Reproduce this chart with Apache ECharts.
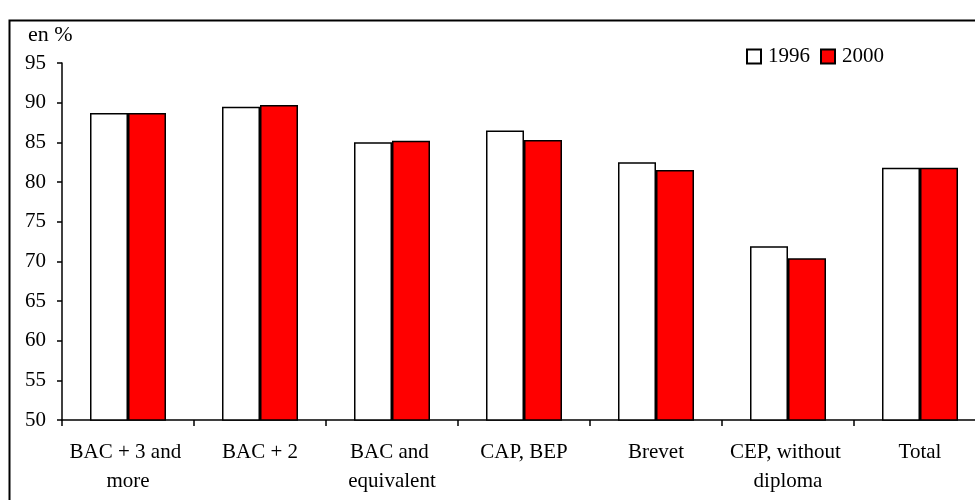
<!DOCTYPE html>
<html>
<head>
<meta charset="utf-8">
<title>en %</title>
<script src="https://cdn.jsdelivr.net/npm/echarts@6/dist/echarts.min.js"></script>
<style>
  html, body { margin: 0; padding: 0; background: #fff; }
  #chart { width: 975px; height: 500px; }
</style>
</head>
<body>
<div id="chart"></div>
<script>
// Education levels and share (%) for the two survey years
const categories = ['BAC + 3 and more', 'BAC + 2', 'BAC and equivalent', 'CAP, BEP', 'Brevet', 'CEP, without diploma', 'Total'];
const values1996 = [88.7, 89.5, 85.0, 86.5, 82.5, 71.9, 81.8];
const values2000 = [88.7, 89.7, 85.2, 85.3, 81.5, 70.4, 81.8];
const yTicks = { min: 50, max: 95, interval: 5 };

const FONT = '"Liberation Serif", "DejaVu Serif", serif';

const chart = echarts.init(document.getElementById('chart'), null, { renderer: 'canvas' });

chart.setOption({
  animation: false,
  backgroundColor: '#ffffff',
  textStyle: { fontFamily: FONT, color: '#000' },
  graphic: [
    {
      type: 'rect',
      shape: { x: 9.5, y: 20.5, width: 1100, height: 600 },
      style: { fill: 'none', stroke: '#000', lineWidth: 2 },
      silent: true,
      z: -10
    },
    {
      type: 'text',
      left: 28,
      top: 24,
      style: { text: 'en %', font: '22px ' + FONT, fill: '#000' }
    }
  ],
  legend: {
    left: 741,
    top: 41,
    itemWidth: 14,
    itemHeight: 14,
    itemGap: 10,
    icon: 'rect',
    textStyle: { fontFamily: FONT, fontSize: 21, color: '#000', padding: [0, 0, 0, 2] },
    data: ['1996', '2000']
  },
  grid: { left: 62, right: -11, top: 63, bottom: 80, containLabel: false, outerBoundsMode: 'none' },
  xAxis: {
    type: 'category',
    data: categories,
    boundaryGap: true,
    axisLine: { lineStyle: { color: '#000', width: 1.5 } },
    axisTick: { show: true, length: 6, lineStyle: { color: '#000', width: 1.5 } },
    axisLabel: {
      color: '#000',
      fontFamily: FONT,
      fontSize: 21,
      margin: 18,
      lineHeight: 29,
      width: 128,
      overflow: 'break',
      interval: 0
    }
  },
  yAxis: {
    type: 'value',
    min: yTicks.min,
    max: yTicks.max,
    interval: yTicks.interval,
    splitLine: { show: false },
    axisLine: { show: true, lineStyle: { color: '#000', width: 1.5 } },
    axisTick: { show: true, length: 5, lineStyle: { color: '#000', width: 1.5 } },
    axisLabel: { color: '#000', fontFamily: FONT, fontSize: 21, margin: 16 }
  },
  series: [
    {
      name: '1996',
      type: 'bar',
      data: values1996,
      barWidth: 38,
      barGap: '0%',
      itemStyle: { color: '#ffffff', borderColor: '#000', borderWidth: 1.5 }
    },
    {
      name: '2000',
      type: 'bar',
      data: values2000,
      barWidth: 38,
      barGap: '0%',
      itemStyle: { color: '#ff0000', borderColor: '#000', borderWidth: 1.5 }
    }
  ]
});
</script>
</body>
</html>
